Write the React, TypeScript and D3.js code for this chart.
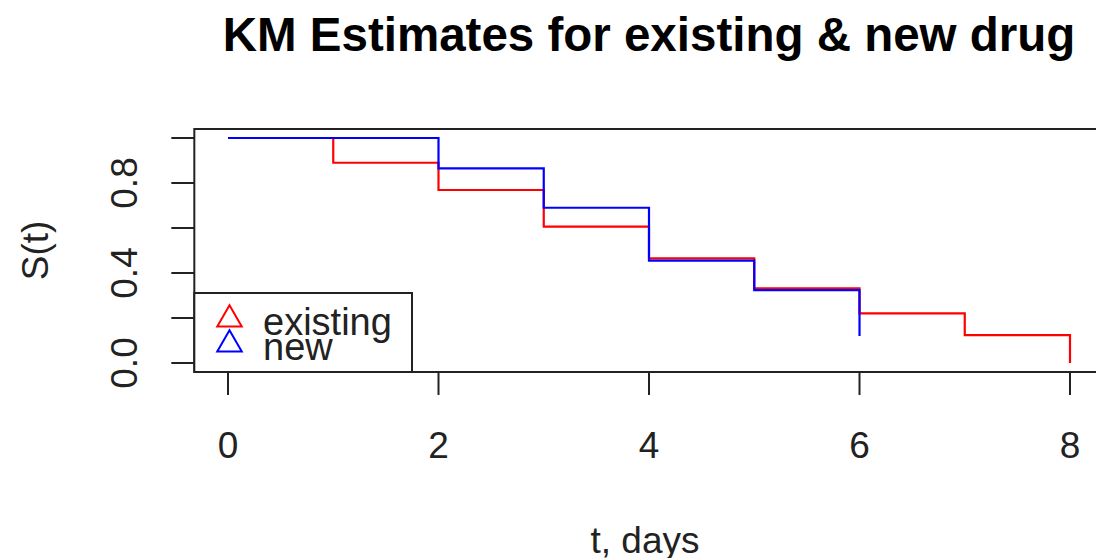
import React, { useEffect, useRef } from "react";
import * as d3 from "d3";

// KM survival estimates
const existingTimes = [0, 1, 2, 3, 4, 5, 6, 7, 8];
const existingSurv = [1, 0.89, 0.769, 0.606, 0.465, 0.332, 0.221, 0.124, 0];
const newTimes = [0, 2, 3, 4, 5, 6];
const newSurv = [1, 0.865, 0.69, 0.455, 0.324, 0.12];

const xTicks = [0, 2, 4, 6, 8];
const yTicks = [0, 0.2, 0.4, 0.6, 0.8, 1.0];
const yTickLabels = ["0.0", "0.4", "0.8"];
const legendLabels = ["existing", "new"];
const legendColors = ["#ff0000", "#0000ff"];

const App = () => {
  const svgRef = useRef<SVGSVGElement>(null);

  useEffect(() => {
    const w = 1096;
    const h = 558;
    const font = "Liberation Sans, Arial, sans-serif";
    const ink = "#222";

    const svg = d3.select(svgRef.current).attr("width", w).attr("height", h);
    svg.selectAll("*").remove();

    const x = d3.scaleLinear().domain([0, 8]).range([228, 1070]);
    const y = d3.scaleLinear().domain([0, 1]).range([363, 138]);

    const left = x(-0.32);
    const right = x(8.32);
    const top = y(1.04);
    const bottom = y(-0.04);

    // title
    svg
      .append("text")
      .attr("x", (left + right) / 2)
      .attr("y", 51)
      .attr("text-anchor", "middle")
      .attr("font-family", font)
      .attr("font-weight", "bold")
      .attr("font-size", 47.5)
      .attr("fill", "#000")
      .text("KM Estimates for existing & new drug");

    // step curves
    const line = d3
      .line<[number, number]>()
      .x((d) => x(d[0]))
      .y((d) => y(d[1]))
      .curve(d3.curveStepAfter);

    const series = [
      { pts: existingTimes.map((t, i) => [t, existingSurv[i]] as [number, number]), color: legendColors[0] },
      { pts: newTimes.map((t, i) => [t, newSurv[i]] as [number, number]), color: legendColors[1] },
    ];

    series.forEach((s) => {
      svg
        .append("path")
        .attr("d", line(s.pts))
        .attr("fill", "none")
        .attr("stroke", s.color)
        .attr("stroke-width", 2.2);
    });

    // box
    svg
      .append("rect")
      .attr("x", left)
      .attr("y", top)
      .attr("width", right - left)
      .attr("height", bottom - top)
      .attr("fill", "none")
      .attr("stroke", ink)
      .attr("stroke-width", 2);

    // x axis
    const gx = svg.append("g");
    gx.append("line")
      .attr("x1", x(0)).attr("x2", x(8))
      .attr("y1", bottom).attr("y2", bottom)
      .attr("stroke", ink).attr("stroke-width", 2);
    xTicks.forEach((t) => {
      gx.append("line")
        .attr("x1", x(t)).attr("x2", x(t))
        .attr("y1", bottom).attr("y2", bottom + 23)
        .attr("stroke", ink).attr("stroke-width", 2);
      gx.append("text")
        .attr("x", x(t))
        .attr("y", 458)
        .attr("text-anchor", "middle")
        .attr("font-family", font)
        .attr("font-size", 37)
        .attr("fill", ink)
        .text(t);
    });

    // y axis
    const gy = svg.append("g");
    yTicks.forEach((t) => {
      gy.append("line")
        .attr("x1", left - 23).attr("x2", left)
        .attr("y1", y(t)).attr("y2", y(t))
        .attr("stroke", ink).attr("stroke-width", 2);
    });
    yTickLabels.forEach((lab) => {
      gy.append("text")
        .attr("transform", `translate(137,${y(+lab)}) rotate(-90)`)
        .attr("text-anchor", "middle")
        .attr("font-family", font)
        .attr("font-size", 37)
        .attr("fill", ink)
        .text(lab);
    });

    // axis titles
    svg
      .append("text")
      .attr("x", 645)
      .attr("y", 553)
      .attr("text-anchor", "middle")
      .attr("font-family", font)
      .attr("font-size", 37)
      .attr("fill", ink)
      .text("t, days");

    svg
      .append("text")
      .attr("transform", `translate(48,${y(0.5)}) rotate(-90)`)
      .attr("text-anchor", "middle")
      .attr("font-family", font)
      .attr("font-size", 37)
      .attr("fill", ink)
      .text("S(t)");

    // legend
    const lg = svg.append("g");
    lg.append("rect")
      .attr("x", left)
      .attr("y", 293)
      .attr("width", 412 - left)
      .attr("height", bottom - 293)
      .attr("fill", "#fff")
      .attr("stroke", ink)
      .attr("stroke-width", 2);
    const tri = d3.symbol().type(d3.symbolTriangle).size(260);
    legendLabels.forEach((lab, i) => {
      const cy = 319.5 + i * 25;
      lg.append("path")
        .attr("d", tri())
        .attr("transform", `translate(229.5,${cy})`)
        .attr("fill", "none")
        .attr("stroke", legendColors[i])
        .attr("stroke-width", 2);
      lg.append("text")
        .attr("x", 263)
        .attr("y", 335 + i * 25)
        .attr("font-family", font)
        .attr("font-size", 38)
        .attr("fill", ink)
        .text(lab);
    });
  }, []);

  return (
    <svg
      ref={svgRef}
      style={{ position: "absolute", left: 0, top: 0, display: "block", background: "#fff" }}
    />
  );
};

export default App;
